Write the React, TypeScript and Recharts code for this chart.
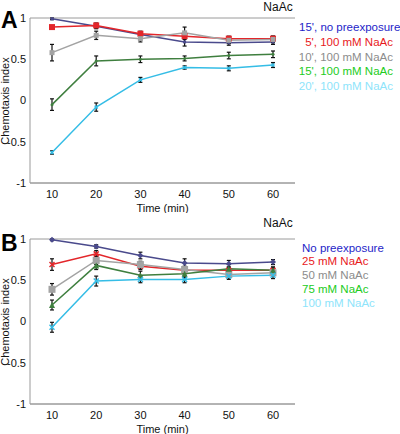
import { CartesianGrid, ErrorBar, Line, LineChart, XAxis, YAxis } from "recharts"

const times = ["10", "20", "30", "40", "50", "60"]
const yTicks = [-1, -0.5, 0, 0.5, 1]

// panel A: pre-exposure time series
const aNoPre = [0.99, 0.9, 0.8, 0.71, 0.7, 0.71]
const aNoPreErr = [0.01, 0.03, 0.03, 0.05, 0.03, 0.03]
const a5min = [0.89, 0.91, 0.81, 0.78, 0.75, 0.75]
const a5minErr = [0.01, 0.03, 0.03, 0.04, 0.03, 0.03]
const a10min = [0.58, 0.79, 0.75, 0.82, 0.73, 0.74]
const a10minErr = [0.1, 0.05, 0.04, 0.07, 0.04, 0.04]
const a15min = [-0.05, 0.48, 0.5, 0.51, 0.545, 0.56]
const a15minErr = [0.07, 0.06, 0.04, 0.03, 0.04, 0.04]
const a20min = [-0.63, -0.08, 0.25, 0.4, 0.39, 0.43]
const a20minErr = [0.02, 0.05, 0.03, 0.02, 0.03, 0.03]

// panel B: concentration series
const bNoPre = [0.99, 0.91, 0.8, 0.71, 0.7, 0.72]
const bNoPreErr = [0.01, 0.02, 0.04, 0.05, 0.04, 0.03]
const b25 = [0.69, 0.82, 0.67, 0.62, 0.62, 0.62]
const b25Err = [0.07, 0.04, 0.04, 0.04, 0.04, 0.04]
const b50 = [0.39, 0.74, 0.69, 0.63, 0.57, 0.59]
const b50Err = [0.07, 0.05, 0.04, 0.04, 0.04, 0.04]
const b75 = [0.2, 0.68, 0.56, 0.58, 0.64, 0.62]
const b75Err = [0.06, 0.05, 0.05, 0.05, 0.05, 0.04]
const b100 = [-0.07, 0.49, 0.51, 0.51, 0.55, 0.56]
const b100Err = [0.06, 0.06, 0.04, 0.04, 0.04, 0.04]

const legendA = ["15', no preexposure", "5', 100 mM NaAc", "10', 100 mM NaAc", "15', 100 mM NaAc", "20', 100 mM NaAc"]
const legendB = ["No preexposure", "25 mM NaAc", "50 mM NaAc", "75 mM NaAc", "100 mM NaAc"]

const lineColors = ["#4a4a8c", "#e3262a", "#a3a3a3", "#3f7f3f", "#35bde6"]
const textColors = ["#1e1ec8", "#e8191c", "#8c8c8c", "#22cc22", "#8ee4fb"]
const FONT = "'Liberation Sans', Arial, sans-serif"

type Shape = "square" | "diamond" | "cross" | "triangle" | "dot"

const makeDot = (shape: Shape, color: string, size: number) => (props: any) => {
  const { cx, cy, index } = props
  if (cx == null || cy == null) return <g key={index} />
  const h = size / 2
  if (shape === "square")
    return <rect key={index} x={cx - h} y={cy - h} width={size} height={size} fill={color} />
  if (shape === "diamond")
    return <polygon key={index} points={`${cx},${cy - h} ${cx + h},${cy} ${cx},${cy + h} ${cx - h},${cy}`} fill={color} />
  if (shape === "triangle")
    return <polygon key={index} points={`${cx},${cy - h} ${cx + h},${cy + h} ${cx - h},${cy + h}`} fill={color} />
  if (shape === "cross")
    return (
      <g key={index} stroke={color} strokeWidth={1.5}>
        <line x1={cx - h} y1={cy - h} x2={cx + h} y2={cy + h} />
        <line x1={cx - h} y1={cy + h} x2={cx + h} y2={cy - h} />
      </g>
    )
  return <circle key={index} cx={cx} cy={cy} r={h} fill={color} />
}

interface Series {
  values: number[]
  errors: number[]
  shape: Shape
  size: number
}

interface PanelProps {
  top: number
  letter: string
  series: Series[]
  legend: string[]
  legendAlign: "left" | "right"
  legendTops: number[]
  titleTop: number
  letterTop: number
}

const Panel = ({ top, letter, series, legend, legendAlign, legendTops, titleTop, letterTop }: PanelProps) => {
  const data = times.map((t, i) => {
    const row: Record<string, any> = { time: t }
    series.forEach((s, k) => {
      row["s" + k] = s.values[i]
      row["e" + k] = s.errors[i]
    })
    return row
  })

  return (
    <div style={{ position: "absolute", left: 0, top, width: 400, height: 213 }}>
      <LineChart width={400} height={213} data={data} margin={{ top: 18, right: 105, bottom: 0, left: 0 }}>
        <CartesianGrid vertical={false} stroke="#9a9a9a" />
        <XAxis dataKey="time" height={30} tickLine={false} tickSize={0} tickMargin={7} padding={{ left: 22, right: 22 }}
          axisLine={{ stroke: "#9a9a9a" }} tick={{ fontSize: 11, fill: "#111", fontFamily: FONT }}
          label={{ value: "Time (min)", position: "insideBottom", offset: 1, fontSize: 11, fill: "#111", fontFamily: FONT }} />
        <YAxis yAxisId="l" width={30} domain={[-1, 1]} ticks={yTicks} interval={0} tickLine={false} tickSize={0}
          tickMargin={4} axisLine={{ stroke: "#9a9a9a" }} tick={{ fontSize: 11, fill: "#111", fontFamily: FONT }} />
        <YAxis yAxisId="r" orientation="right" width={0} domain={[-1, 1]} tick={false} tickLine={false}
          axisLine={{ stroke: "#9a9a9a" }} />
        {series.map((s, k) => (
          <Line key={k} yAxisId="l" dataKey={"s" + k} stroke={lineColors[k]} strokeWidth={1.5}
            dot={makeDot(s.shape, lineColors[k], s.size)} activeDot={false} isAnimationActive={false}>
            <ErrorBar dataKey={"e" + k} width={2} stroke="#111" strokeWidth={1.2} direction="y" />
          </Line>
        ))}
      </LineChart>
      <div style={{ position: "absolute", left: 5, top: 101, width: 0, height: 0 }}>
        <div style={{ position: "absolute", left: -60, top: -7, width: 120, textAlign: "center",
          transform: "rotate(-90deg)", fontSize: 11, fontFamily: FONT, color: "#111", lineHeight: "14px",
          whiteSpace: "nowrap" }}>Chemotaxis index</div>
      </div>
      <div style={{ position: "absolute", left: 1, top: letterTop, fontSize: 23, fontWeight: "bold",
        fontFamily: FONT, lineHeight: "23px" }}>{letter}</div>
      <div style={{ position: "absolute", left: 257, top: titleTop, width: 42, textAlign: "center",
        fontSize: 12, fontFamily: FONT, color: "#111", lineHeight: "14px" }}>NaAc</div>
      {legend.map((txt, k) => (
        <div key={k} style={{
          position: "absolute", top: legendTops[k] - 7,
          left: legendAlign === "left" ? 302 : k === 0 ? 299 : undefined,
          right: legendAlign === "right" && k > 0 ? 7 : undefined,
          fontSize: 11.5, fontFamily: FONT, color: textColors[k], lineHeight: "14px", whiteSpace: "nowrap",
        }}>{txt}</div>
      ))}
    </div>
  )
}

const App = () => {
  const seriesA: Series[] = [
    { values: aNoPre, errors: aNoPreErr, shape: "square", size: 3 },
    { values: a5min, errors: a5minErr, shape: "square", size: 6 },
    { values: a10min, errors: a10minErr, shape: "square", size: 5 },
    { values: a15min, errors: a15minErr, shape: "dot", size: 3 },
    { values: a20min, errors: a20minErr, shape: "cross", size: 3 },
  ]
  const seriesB: Series[] = [
    { values: bNoPre, errors: bNoPreErr, shape: "diamond", size: 6 },
    { values: b25, errors: b25Err, shape: "cross", size: 5 },
    { values: b50, errors: b50Err, shape: "square", size: 7 },
    { values: b75, errors: b75Err, shape: "triangle", size: 6 },
    { values: b100, errors: b100Err, shape: "cross", size: 5 },
  ]

  return (
    <div style={{ position: "absolute", left: 0, top: 0, width: 400, height: 434, background: "#fff", overflow: "hidden" }}>
      <Panel top={0} letter="A" series={seriesA} legend={legendA} legendAlign="right"
        legendTops={[27, 42, 56.5, 71, 86]} titleTop={0} letterTop={9} />
      <Panel top={221} letter="B" series={seriesB} legend={legendB} legendAlign="left"
        legendTops={[26.5, 40, 54, 68, 82]} titleTop={-5} letterTop={11} />
    </div>
  )
}

export default App
